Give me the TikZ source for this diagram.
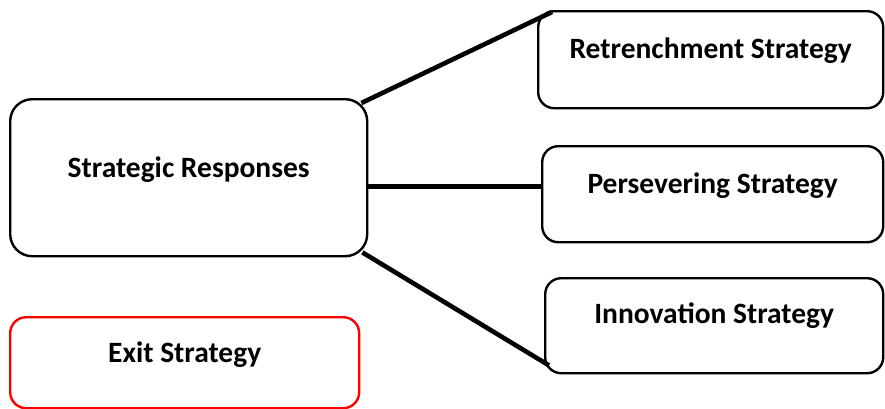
\documentclass[tikz,border=0pt]{standalone}
\usepackage{fontspec}
\setmainfont{Carlito}
\begin{document}
\begin{tikzpicture}[x=1pt,y=-1pt,
  box/.style={draw=black, line width=2.4pt, rounded corners=16pt, anchor=north west,
    inner sep=0pt, align=center, font=\fontsize{29.5}{33}\selectfont\bfseries},
  link/.style={draw=black, line width=4.6pt}]
\useasboundingbox (0,0) rectangle (885,408);
\node[box, rounded corners=22pt, minimum width=357pt, text height=78pt, text depth=79pt] (strat) at (9,98) {Strategic Responses};
\node[box, minimum width=345pt, text height=47pt, text depth=50pt] (ret) at (537,10) {Retrenchment Strategy};
\node[box, minimum width=341pt, text height=47pt, text depth=49pt] (per) at (541,145) {Persevering Strategy};
\node[box, minimum width=338pt, text height=45pt, text depth=50pt] (inn) at (544,277) {Innovation Strategy};
\node[box, draw=red, minimum width=349pt, text height=45pt, text depth=46pt] (exit) at (9,316) {Exit Strategy};
\draw[link] ([shift={(-7,5)}]strat.north east) -- ([shift={(15,2)}]ret.north west);
\draw[link] ([yshift=-8.5pt]strat.east) -- ([yshift=-8.5pt]strat.east -| per.west);
\draw[link] ([shift={(-6,-5)}]strat.south east) -- ([shift={(5,-9)}]inn.south west);
\end{tikzpicture}
\end{document}
